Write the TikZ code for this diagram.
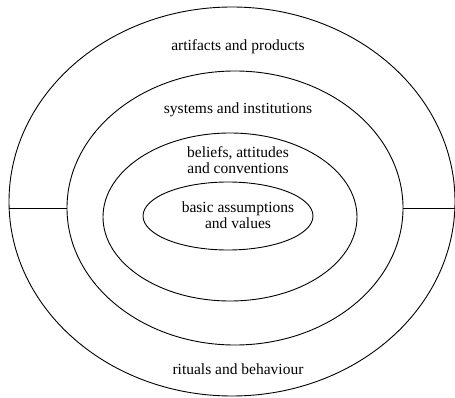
\documentclass[tikz,border=0pt]{standalone}
\usepackage{fontspec}
\setmainfont{Liberation Serif}
\usetikzlibrary{shapes.geometric}
\begin{document}
\begin{tikzpicture}[x=1pt,y=-1pt,
  ring/.style={draw, ellipse, line width=0.9pt, inner sep=0pt, outer sep=0pt},
  lbl/.style={align=center, font=\fontsize{15.5}{16}\selectfont, inner sep=0pt},
  divider/.style={line width=0.9pt}]
  \useasboundingbox (0,0) rectangle (455,398);
  % concentric layers, from outside in
  \node[ring, minimum width=446, minimum height=389] (outer)  at (232,201.5) {};
  \node[ring, minimum width=336, minimum height=274] (second) at (235,208) {};
  \node[ring, minimum width=254, minimum height=168] (third)  at (230,217) {};
  \node[ring, minimum width=170, minimum height=68]  (core)   at (228,216) {};
  % split of the outermost layer
  \draw[divider] (second.west) -- (second.west -| outer.west);
  \draw[divider] (second.east) -- (second.east -| outer.east);
  % layer labels
  \node[lbl] (artifacts) at (238,47)  {artifacts and products};
  \node[lbl] (systems)   at (238,110) {systems and institutions};
  \node[lbl] (beliefs)   at (238,160) {beliefs, attitudes\\and conventions};
  \node[lbl] (basic)     at (238,215) {basic assumptions\\and values};
  \node[lbl] (rituals)   at (238,369) {rituals and behaviour};
\end{tikzpicture}
\end{document}
